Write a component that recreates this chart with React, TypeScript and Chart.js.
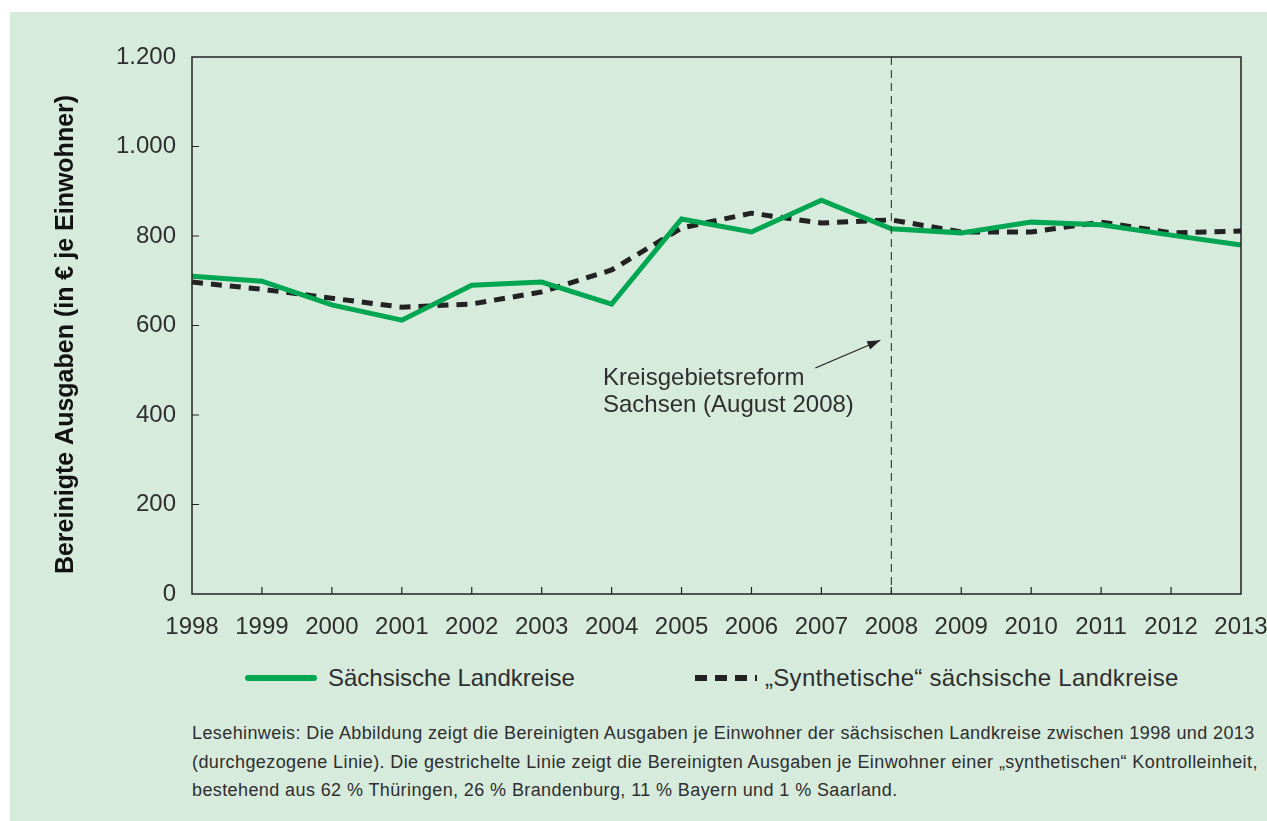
import React, { useEffect, useRef } from "react";
import { Chart, registerables } from "chart.js";

Chart.register(...registerables);

const years = ["1998", "1999", "2000", "2001", "2002", "2003", "2004", "2005", "2006", "2007", "2008", "2009", "2010", "2011", "2012", "2013"];
const saxonyValues = [710, 699, 646, 612, 690, 697, 648, 838, 809, 880, 816, 807, 831, 825, 802, 780];
const syntheticValues = [697, 681, 661, 641, 648, 675, 724, 818, 851, 829, 836, 809, 809, 831, 807, 811];
const yTicks = [0, 200, 400, 600, 800, 1000, 1200];
const seriesLabels = ["Sächsische Landkreise", "„Synthetische“ sächsische Landkreise"];
const yTitle = "Bereinigte Ausgaben (in € je Einwohner)";
const reformYear = "2008";
const annotationLines = ["Kreisgebietsreform", "Sachsen (August 2008)"];
const footnoteLines = [
  "Lesehinweis: Die Abbildung zeigt die Bereinigten Ausgaben je Einwohner der sächsischen Landkreise zwischen 1998 und 2013",
  "(durchgezogene Linie). Die gestrichelte Linie zeigt die Bereinigten Ausgaben je Einwohner einer „synthetischen“ Kontrolleinheit,",
  "bestehend aus 62 % Thüringen, 26 % Brandenburg, 11 % Bayern und 1 % Saarland.",
];

const GREEN = "#00a651";
const DARK = "#222222";
const TEXT = "#2e2e2e";
const FONT = "'Liberation Sans', Arial, sans-serif";

const decorPlugin = {
  id: "decor",
  afterDatasetsDraw(chart: any) {
    const ctx = chart.ctx;
    const area = chart.chartArea;
    const xs = chart.scales.x;
    const ys = chart.scales.y;
    ctx.save();
    // border
    ctx.strokeStyle = DARK;
    ctx.lineWidth = 1.5;
    ctx.setLineDash([]);
    ctx.strokeRect(area.left, area.top, area.right - area.left, area.bottom - area.top);
    // inside ticks
    ctx.lineWidth = 1.2;
    ctx.beginPath();
    yTicks.forEach((v) => {
      if (v === 0 || v === 1200) return;
      const y = ys.getPixelForValue(v);
      ctx.moveTo(area.left, y);
      ctx.lineTo(area.left + 7, y);
    });
    years.forEach((_, i) => {
      if (i === 0 || i === years.length - 1) return;
      const x = xs.getPixelForValue(i);
      ctx.moveTo(x, area.bottom);
      ctx.lineTo(x, area.bottom - 7);
    });
    ctx.stroke();
    // vertical dashed reform line
    const rx = xs.getPixelForValue(years.indexOf(reformYear));
    ctx.lineWidth = 1;
    ctx.setLineDash([8, 5]);
    ctx.beginPath();
    ctx.moveTo(rx, area.top);
    ctx.lineTo(rx, area.bottom);
    ctx.stroke();
    ctx.setLineDash([]);
    // arrow
    const ax0 = rx - 76, ay0 = ys.getPixelForValue(505);
    const ax1 = rx - 11, ay1 = ys.getPixelForValue(567);
    ctx.lineWidth = 1.3;
    ctx.beginPath();
    ctx.moveTo(ax0, ay0);
    ctx.lineTo(ax1, ay1);
    ctx.stroke();
    const ang = Math.atan2(ay1 - ay0, ax1 - ax0);
    const hl = 13, hw = 4.5;
    ctx.fillStyle = DARK;
    ctx.beginPath();
    ctx.moveTo(ax1, ay1);
    ctx.lineTo(ax1 - hl * Math.cos(ang) + hw * Math.sin(ang), ay1 - hl * Math.sin(ang) - hw * Math.cos(ang));
    ctx.lineTo(ax1 - hl * Math.cos(ang) - hw * Math.sin(ang), ay1 - hl * Math.sin(ang) + hw * Math.cos(ang));
    ctx.closePath();
    ctx.fill();
    // annotation text
    ctx.fillStyle = TEXT;
    ctx.font = `24px ${FONT}`;
    ctx.textAlign = "left";
    ctx.textBaseline = "middle";
    ctx.fillText(annotationLines[0], 603, 378);
    ctx.fillText(annotationLines[1], 603, 405);
    // y title
    ctx.save();
    ctx.translate(66, (area.top + area.bottom) / 2 + 9);
    ctx.rotate(-Math.PI / 2);
    ctx.font = `bold 25px ${FONT}`;
    ctx.fillStyle = "#111";
    ctx.textAlign = "center";
    ctx.textBaseline = "middle";
    ctx.fillText(yTitle, 0, 0);
    ctx.restore();
    ctx.restore();
  },
};

export default function App() {
  const canvasRef = useRef<HTMLCanvasElement | null>(null);

  useEffect(() => {
    if (!canvasRef.current) return;
    const chart = new Chart(canvasRef.current, {
      type: "line",
      data: {
        labels: years,
        datasets: [
          {
            label: seriesLabels[0],
            data: saxonyValues,
            borderColor: GREEN,
            borderWidth: 5,
            pointRadius: 0,
            tension: 0,
            borderJoinStyle: "miter",
          },
          {
            label: seriesLabels[1],
            data: syntheticValues,
            borderColor: DARK,
            borderWidth: 5,
            borderDash: [11, 8],
            pointRadius: 0,
            tension: 0,
          },
        ],
      },
      options: {
        responsive: false,
        animation: false,
        layout: { padding: { top: 57, right: 26, left: 0, bottom: 0 } },
        plugins: {
          legend: { display: false },
          tooltip: { enabled: false },
        },
        scales: {
          x: {
            type: "category",
            offset: false,
            grid: { display: false },
            border: { display: false },
            ticks: {
              color: TEXT,
              font: { family: FONT, size: 24 },
              padding: 11,
              maxRotation: 0,
              autoSkip: false,
            },
            afterFit: (s: any) => {
              s.height = 66;
              s.paddingLeft = 0;
              s.paddingRight = 0;
            },
          },
          y: {
            min: 0,
            max: 1200,
            grid: { display: false },
            border: { display: false },
            afterBuildTicks: (s: any) => {
              s.ticks = yTicks.map((v) => ({ value: v }));
            },
            ticks: {
              color: TEXT,
              font: { family: FONT, size: 24 },
              padding: 8,
              callback: (v: any) => Number(v).toLocaleString("de-DE"),
            },
            afterFit: (s: any) => {
              s.width = 192;
              s.paddingTop = 0;
              s.paddingBottom = 0;
            },
          },
        },
      },
      plugins: [decorPlugin],
    });
    return () => chart.destroy();
  }, []);

  return (
    <div style={{ position: "absolute", left: 0, top: 0, width: 1267, height: 821, background: "#ffffff", overflow: "hidden" }}>
      <div style={{ position: "absolute", left: 10, top: 12, width: 1257, height: 809, background: "#d7ebdd" }} />
      <canvas ref={canvasRef} width={1267} height={660} style={{ position: "absolute", left: 0, top: 0, width: 1267, height: 660 }} />
      <div style={{ position: "absolute", left: 0, top: 660, width: 1267, height: 40, fontFamily: FONT, fontSize: 24, color: TEXT }}>
        <div style={{ position: "absolute", left: 245, top: 15, width: 72, height: 6, borderRadius: 3, background: GREEN }} />
        <div style={{ position: "absolute", left: 328, top: 3, whiteSpace: "nowrap", lineHeight: "30px" }}>{seriesLabels[0]}</div>
        <div style={{ position: "absolute", left: 695, top: 15, width: 62, height: 6, background: `repeating-linear-gradient(to right, ${DARK} 0 12px, transparent 12px 20px)` }} />
        <div style={{ position: "absolute", left: 765, top: 3, whiteSpace: "nowrap", lineHeight: "30px", letterSpacing: "0.3px" }}>{seriesLabels[1]}</div>
      </div>
      <div style={{ position: "absolute", left: 192, top: 719, fontFamily: FONT, fontSize: 18, letterSpacing: "0.4px", color: TEXT, lineHeight: "28.5px", whiteSpace: "nowrap" }}>
        {footnoteLines.map((l, i) => (
          <div key={i}>{l}</div>
        ))}
      </div>
    </div>
  );
}
